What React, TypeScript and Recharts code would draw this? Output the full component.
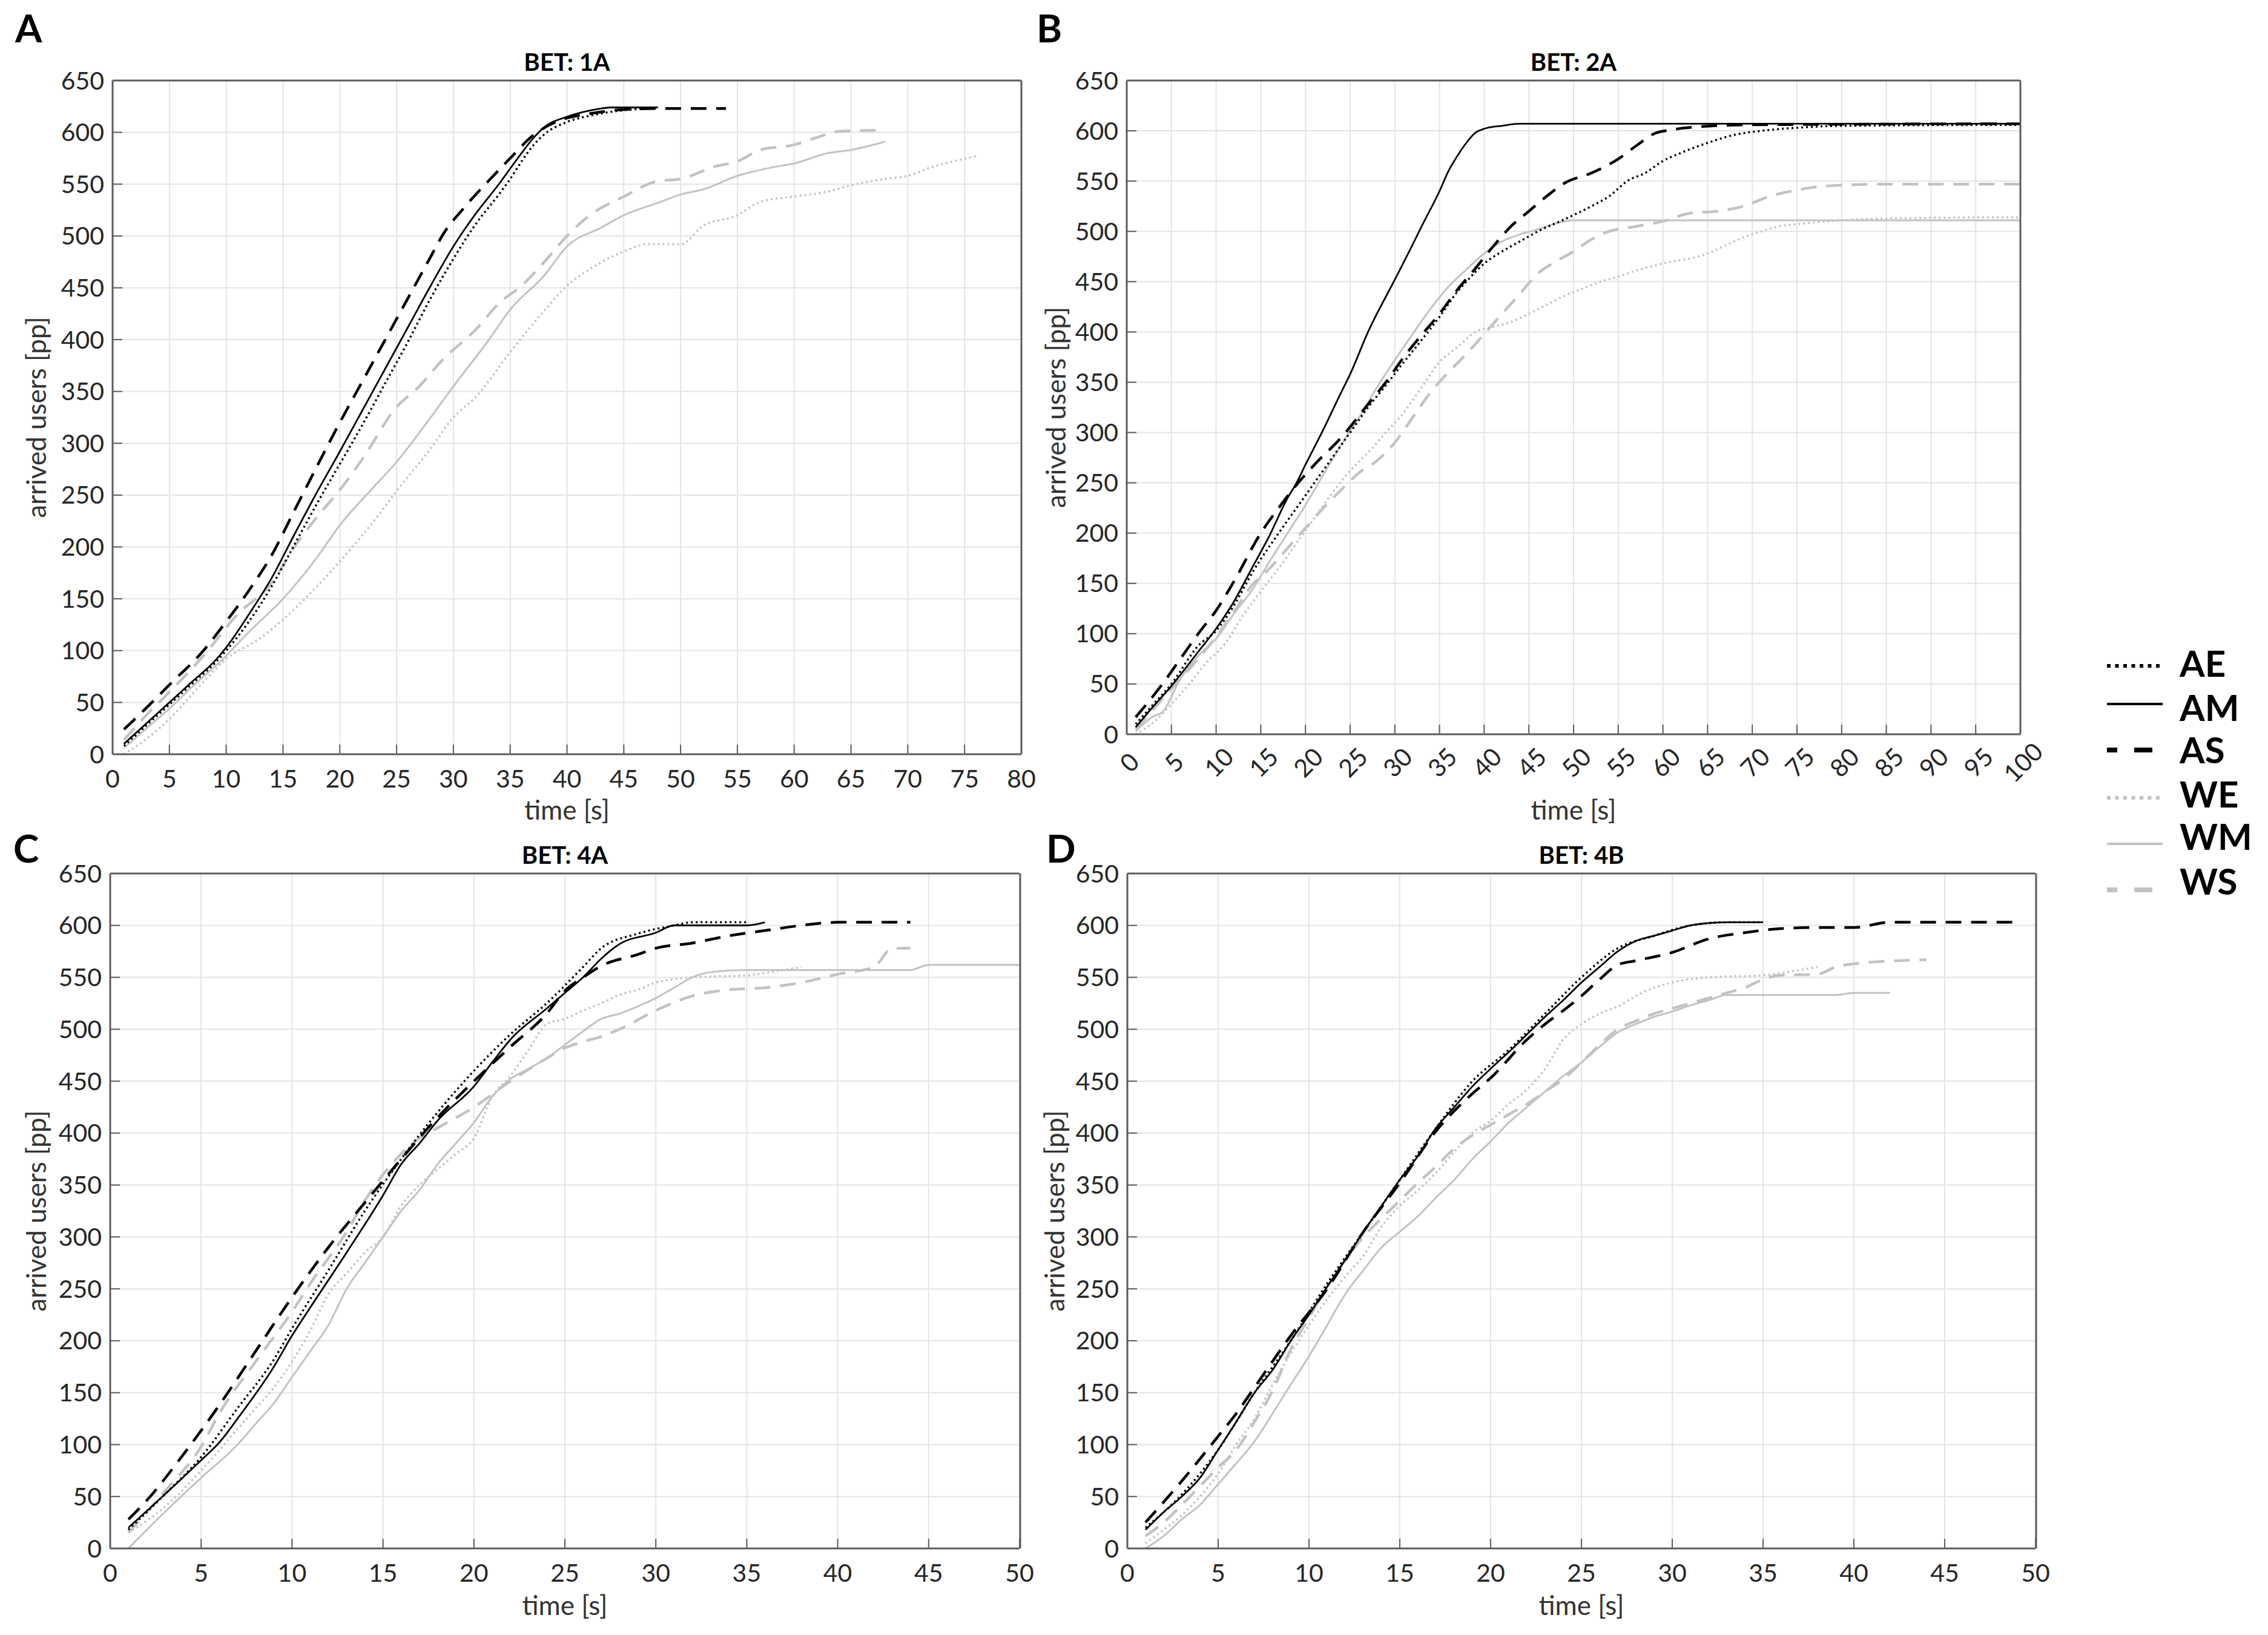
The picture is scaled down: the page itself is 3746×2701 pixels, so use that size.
import React from "react";
import { CartesianGrid, Line, LineChart, XAxis, YAxis } from "recharts";

type Pt = [number, number];

// ---- BET: 1A ----
const A_AE: Pt[] = [[1,8],[3,28],[5,48],[7,68],[9,88],[10,100],[12,128],[14,162],[16,202],[18,242],[20,280],[22,318],[24,358],[26,398],[28,440],[30,478],[32,512],[34,540],[35,555],[36,572],[37,587],[38,598],[40,610],[42,616],[44,620],[47,623]];
const A_AM: Pt[] = [[1,10],[3,30],[5,50],[7,70],[9,90],[10,103],[12,135],[14,170],[16,212],[18,253],[20,292],[22,332],[24,372],[26,412],[28,452],[30,490],[32,522],[34,550],[35,565],[36,580],[37,594],[38,605],[40,615],[42,621],[44,624],[48,624]];
const A_AS: Pt[] = [[1,24],[3,45],[5,67],[8,100],[10,128],[12,158],[14,192],[16,235],[18,278],[20,320],[22,360],[24,400],[26,440],[28,480],[29,500],[31,528],[33,552],[35,575],[37,597],[39,610],[42,618],[45,622],[48,623],[54,623]];
const A_WE: Pt[] = [[1,0],[3,15],[5,34],[8,70],[10,92],[13,112],[15,130],[18,162],[20,186],[23,225],[25,254],[28,295],[30,325],[32,345],[35,388],[38,428],[40,452],[42,468],[45,485],[47,492],[50,492],[52,510],[55,520],[57,533],[60,538],[63,543],[65,549],[68,555],[70,558],[72,566],[74,572],[76,577]];
const A_WM: Pt[] = [[1,6],[3,25],[5,44],[7,65],[10,95],[12,118],[15,150],[18,190],[20,221],[23,258],[25,282],[28,325],[30,355],[33,398],[35,429],[38,462],[40,490],[43,508],[45,520],[48,532],[50,540],[52,545],[55,558],[58,566],[60,570],[63,580],[65,583],[68,591]];
const A_WS: Pt[] = [[1,14],[3,38],[5,60],[8,95],[11,135],[14,165],[16,200],[18,229],[20,255],[22,285],[25,335],[27,355],[29,380],[32,410],[34,435],[36,452],[38,475],[40,500],[42,520],[45,538],[48,553],[50,555],[53,567],[55,572],[57,583],[60,588],[62,595],[64,601],[68,602]];

// ---- BET: 2A ----
const B_AE: Pt[] = [[1,10],[3,30],[5,50],[8,88],[10,103],[12,128],[14,160],[17,200],[19,225],[21,250],[23,275],[25,300],[27,325],[29,347],[31,370],[33,392],[35,415],[37,440],[38,450],[40,468],[42,480],[44,490],[46,500],[49,512],[52,525],[54,535],[56,550],[58,558],[60,570],[62,578],[65,588],[68,596],[71,600],[75,603],[80,605],[100,606]];
const B_AM: Pt[] = [[1,7],[3,28],[5,48],[8,82],[10,105],[12,132],[14,165],[16,198],[18,235],[19,250],[20,268],[22,303],[24,340],[25,358],[27,400],[30,452],[32,487],[33,505],[35,540],[36,560],[37,575],[38,588],[39,598],[40,602],[42,605],[44,607],[100,607]];
const B_AS: Pt[] = [[1,17],[4,50],[6,75],[8,100],[10,123],[12,152],[15,200],[17,225],[19,248],[21,268],[24,295],[27,328],[29,350],[31,375],[33,397],[35,418],[37,442],[39,463],[41,485],[43,505],[45,520],[47,535],[49,548],[52,558],[55,572],[57,585],[59,597],[61,601],[64,604],[70,606],[100,607]];
const B_WE: Pt[] = [[1,0],[3,12],[5,30],[7,50],[9,72],[11,90],[13,118],[15,142],[17,165],[19,190],[21,215],[23,240],[25,262],[27,280],[29,300],[31,320],[33,345],[35,370],[37,385],[39,400],[41,405],[43,410],[45,418],[47,427],[49,436],[51,443],[53,450],[55,455],[57,461],[59,466],[61,470],[63,473],[65,478],[67,486],[69,494],[71,500],[73,505],[76,508],[80,511],[86,513],[100,514]];
const B_WM: Pt[] = [[1,3],[3,18],[4,22],[6,55],[8,78],[10,95],[12,120],[14,143],[16,172],[18,200],[20,228],[22,258],[24,288],[26,315],[28,345],[30,372],[32,398],[34,423],[36,445],[38,462],[40,478],[42,490],[44,497],[46,502],[48,508],[50,511],[100,511]];
const B_WS: Pt[] = [[1,5],[3,25],[6,55],[8,75],[10,97],[12,122],[14,148],[16,165],[18,185],[20,205],[22,225],[24,243],[26,260],[28,272],[30,290],[32,315],[34,340],[36,360],[38,378],[40,398],[42,418],[44,438],[46,458],[48,470],[50,480],[52,492],[54,500],[57,505],[60,510],[63,518],[66,520],[69,525],[72,535],[75,541],[78,545],[85,547],[100,547]];

// ---- BET: 4A ----
const C_AE: Pt[] = [[1,18],[3,52],[5,88],[7,135],[9,182],[10,212],[12,268],[14,325],[16,375],[18,420],[20,460],[22,495],[24,525],[26,560],[27,578],[29,592],[31,600],[32,603],[35,603]];
const C_AM: Pt[] = [[1,20],[3,52],[5,85],[6,102],[7,125],[9,175],[10,205],[11,232],[13,285],[15,340],[16,370],[17,390],[18,412],[20,445],[21,468],[22,490],[24,520],[25,535],[26,550],[27,568],[28,582],[30,593],[31,600],[35,600],[36,603]];
const C_AS: Pt[] = [[1,28],[2,46],[4,90],[6,138],[8,190],[10,242],[12,290],[14,333],[16,375],[18,415],[20,450],[22,483],[24,515],[25,537],[26,550],[27,561],[29,572],[30,578],[32,583],[34,590],[36,595],[38,600],[40,603],[44,603]];
const C_WE: Pt[] = [[1,15],[3,40],[5,75],[7,115],[8,135],[9,155],[10,180],[11,210],[12,245],[13,265],[14,285],[15,300],[16,330],[17,350],[18,365],[19,380],[20,395],[21,435],[22,455],[23,480],[24,505],[25,510],[26,518],[27,525],[28,533],[29,538],[30,545],[32,550],[35,552],[37,557],[38,560]];
const C_WM: Pt[] = [[1,0],[3,35],[5,68],[7,100],[8,120],[9,140],[10,165],[11,190],[12,215],[13,250],[14,275],[15,300],[16,325],[17,345],[18,370],[19,390],[20,410],[21,435],[22,452],[23,462],[24,472],[25,485],[26,498],[27,510],[28,515],[29,522],[30,530],[31,540],[32,550],[33,555],[35,557],[44,557],[45,562],[50,562]];
const C_WS: Pt[] = [[1,15],[3,55],[5,98],[6,130],[8,180],[10,228],[11,255],[13,305],[14,335],[15,360],[16,380],[17,395],[18,405],[20,425],[22,450],[24,472],[25,482],[26,488],[27,493],[28,500],[30,518],[32,532],[34,538],[36,540],[38,545],[40,553],[42,560],[43,578],[44,578]];

// ---- BET: 4B ----
const D_AE: Pt[] = [[1,20],[3,52],[5,95],[7,150],[9,200],[11,255],[13,305],[15,355],[17,405],[19,450],[21,480],[23,515],[25,550],[27,578],[29,590],[31,600],[33,603],[35,603]];
const D_AM: Pt[] = [[1,18],[2,35],[3,50],[4,68],[5,95],[6,122],[7,150],[8,172],[9,200],[10,225],[11,252],[12,278],[13,305],[14,330],[15,355],[16,378],[17,405],[18,425],[19,445],[20,462],[21,478],[22,495],[23,512],[24,528],[25,545],[26,560],[27,575],[28,585],[29,590],[30,595],[31,600],[33,603],[35,603]];
const D_AS: Pt[] = [[1,25],[3,65],[5,108],[6,130],[7,155],[9,205],[11,250],[13,305],[15,352],[17,402],[19,438],[20,453],[22,490],[23,505],[24,518],[25,532],[26,548],[27,562],[28,566],[30,574],[32,587],[34,593],[36,597],[38,598],[40,598],[42,603],[49,603]];
const D_WE: Pt[] = [[1,5],[2,18],[3,32],[4,50],[5,72],[6,100],[7,125],[8,158],[9,188],[10,215],[11,240],[12,262],[13,282],[14,310],[15,330],[16,345],[17,362],[18,382],[19,400],[20,412],[21,428],[22,442],[23,462],[24,490],[25,505],[26,515],[27,522],[28,532],[29,540],[30,545],[32,550],[35,552],[37,557],[38,560]];
const D_WM: Pt[] = [[1,0],[2,12],[3,28],[4,42],[5,62],[6,82],[7,103],[8,130],[9,158],[10,185],[11,215],[12,245],[13,268],[14,290],[15,305],[16,320],[17,338],[18,355],[19,375],[20,392],[21,410],[22,425],[23,440],[24,455],[25,468],[26,483],[27,497],[28,505],[29,512],[30,517],[31,523],[32,528],[33,533],[39,533],[40,535],[42,535]];
const D_WS: Pt[] = [[1,12],[2,25],[3,42],[4,60],[5,78],[6,95],[7,122],[8,152],[9,192],[10,222],[11,252],[12,278],[13,300],[14,318],[15,335],[16,352],[17,368],[18,385],[19,398],[20,408],[21,418],[22,428],[23,440],[24,452],[25,468],[26,485],[27,500],[28,508],[29,515],[30,520],[31,525],[32,530],[33,535],[34,540],[35,548],[36,552],[38,553],[39,560],[40,563],[44,567]];

const Y_TICKS = [0, 50, 100, 150, 200, 250, 300, 350, 400, 450, 500, 550, 600, 650];
const Y_MINOR = Array.from({ length: 66 }, (_, i) => i * 10);
const X_TICKS_80 = [0, 5, 10, 15, 20, 25, 30, 35, 40, 45, 50, 55, 60, 65, 70, 75, 80];
const X_TICKS_100 = [0, 5, 10, 15, 20, 25, 30, 35, 40, 45, 50, 55, 60, 65, 70, 75, 80, 85, 90, 95, 100];
const X_TICKS_50 = [0, 5, 10, 15, 20, 25, 30, 35, 40, 45, 50];

const NAMES = ["AE", "AM", "AS", "WE", "WM", "WS"];
// gray first so the black curves sit on top
const DRAW_ORDER = ["WE", "WM", "WS", "AS", "AM", "AE"];

const FONT = "Lato, 'Open Sans', sans-serif";
const FRAME = "#5c5c5c";
const GRAY = "#c2c2c2";

const STYLE: Record<string, { stroke: string; width: number; dash?: string }> = {
  AE: { stroke: "#000", width: 3.5, dash: "3 5" },
  AM: { stroke: "#000", width: 2.8 },
  AS: { stroke: "#000", width: 4.5, dash: "26 16" },
  WE: { stroke: GRAY, width: 3.5, dash: "3 5" },
  WM: { stroke: GRAY, width: 3 },
  WS: { stroke: GRAY, width: 4.5, dash: "26 16" },
};

const LEGEND_STYLE: Record<string, { stroke: string; width: number; dash?: string; offset?: number }> = {
  AE: { stroke: "#000", width: 6, dash: "6 7.5" },
  AM: { stroke: "#000", width: 4 },
  AS: { stroke: "#000", width: 8, dash: "30 28", offset: 13 },
  WE: { stroke: GRAY, width: 6, dash: "6 7.5" },
  WM: { stroke: GRAY, width: 4 },
  WS: { stroke: GRAY, width: 8, dash: "30 28", offset: 13 },
};

interface PanelDef {
  letter: string;
  title: string;
  xMax: number;
  xTicks: number[];
  rotate: boolean;
  minor: boolean;
  box: { l: number; t: number; r: number; b: number };
  series: Record<string, Pt[]>;
  letterX: number;
  letterY: number;
  titleY: number;
  xLabelY: number;
  yLabelX: number;
}

const PANELS: PanelDef[] = [
  {
    letter: "A", title: "BET: 1A", xMax: 80, xTicks: X_TICKS_80, rotate: false, minor: false,
    box: { l: 186, t: 133, r: 1687, b: 1246 },
    series: { AE: A_AE, AM: A_AM, AS: A_AS, WE: A_WE, WM: A_WM, WS: A_WS },
    letterX: 25, letterY: 70, titleY: 117, xLabelY: 1354, yLabelX: 76,
  },
  {
    letter: "B", title: "BET: 2A", xMax: 100, xTicks: X_TICKS_100, rotate: true, minor: false,
    box: { l: 1861, t: 133, r: 3337, b: 1213 },
    series: { AE: B_AE, AM: B_AM, AS: B_AS, WE: B_WE, WM: B_WM, WS: B_WS },
    letterX: 1712, letterY: 70, titleY: 117, xLabelY: 1354, yLabelX: 1760,
  },
  {
    letter: "C", title: "BET: 4A", xMax: 50, xTicks: X_TICKS_50, rotate: false, minor: true,
    box: { l: 182, t: 1443, r: 1684, b: 2558 },
    series: { AE: C_AE, AM: C_AM, AS: C_AS, WE: C_WE, WM: C_WM, WS: C_WS },
    letterX: 22, letterY: 1425, titleY: 1427, xLabelY: 2668, yLabelX: 76,
  },
  {
    letter: "D", title: "BET: 4B", xMax: 50, xTicks: X_TICKS_50, rotate: false, minor: true,
    box: { l: 1862, t: 1443, r: 3362, b: 2558 },
    series: { AE: D_AE, AM: D_AM, AS: D_AS, WE: D_WE, WM: D_WM, WS: D_WS },
    letterX: 1728, letterY: 1425, titleY: 1427, xLabelY: 2668, yLabelX: 1758,
  },
];

const Y_W = 180;
const TOP_PAD = 60;
const X_H = 150;
const RIGHT_PAD = 70;

function RotTick({ x, y, payload }: any) {
  const cx = x + 4;
  const cy = y + 20;
  return (
    <text
      x={cx}
      y={cy}
      transform={`rotate(-45 ${cx} ${cy})`}
      textAnchor="middle"
      dominantBaseline="central"
      fontSize={41}
      fontFamily={FONT}
      fill="#262626"
    >
      {payload.value}
    </text>
  );
}

function Panel({ p }: { p: PanelDef }) {
  const leftW = Y_W + (p.minor ? 1 : 0);
  const rightW = 1 + (p.minor ? 1 : 0);
  const plotW = p.box.r - p.box.l;
  const plotH = p.box.b - p.box.t;
  const width = leftW + plotW + rightW + RIGHT_PAD;
  const height = TOP_PAD + 1 + plotH + X_H;
  const tickFont = { fontSize: 41, fill: "#262626", fontFamily: FONT };
  const axisLine = { stroke: FRAME, strokeWidth: 3 };
  const tickLine = { stroke: FRAME, strokeWidth: 2 };

  return (
    <div style={{ position: "absolute", left: p.box.l - leftW, top: p.box.t - TOP_PAD - 1 }}>
      <LineChart
        width={width}
        height={height}
        margin={{ top: TOP_PAD, right: RIGHT_PAD, bottom: 0, left: 0 }}
        style={{ overflow: "visible" }}
      >
        <CartesianGrid stroke="#e4e4e4" strokeWidth={2} />
        <XAxis
          xAxisId="top"
          orientation="top"
          type="number"
          domain={[0, p.xMax]}
          ticks={p.xTicks}
          interval={0}
          height={1}
          tick={false}
          tickSize={-16}
          axisLine={axisLine}
          tickLine={tickLine}
          allowDataOverflow
        />
        <XAxis
          dataKey="t"
          type="number"
          domain={[0, p.xMax]}
          ticks={p.xTicks}
          interval={0}
          height={X_H}
          tickSize={-16}
          tickMargin={42}
          tick={p.rotate ? <RotTick /> : tickFont}
          axisLine={axisLine}
          tickLine={tickLine}
          allowDataOverflow
        />
        {p.minor && (
          <YAxis
            yAxisId="minL"
            orientation="left"
            type="number"
            domain={[0, 650]}
            ticks={Y_MINOR}
            interval={0}
            width={1}
            tick={false}
            tickSize={-9}
            axisLine={false}
            tickLine={tickLine}
            allowDataOverflow
          />
        )}
        {p.minor && (
          <YAxis
            yAxisId="minR"
            orientation="right"
            type="number"
            domain={[0, 650]}
            ticks={Y_MINOR}
            interval={0}
            width={1}
            tick={false}
            tickSize={-9}
            axisLine={false}
            tickLine={tickLine}
            allowDataOverflow
          />
        )}
        <YAxis
          type="number"
          domain={[0, 650]}
          ticks={Y_TICKS}
          interval={0}
          width={Y_W}
          tickSize={-16}
          tickMargin={30}
          tick={tickFont}
          axisLine={axisLine}
          tickLine={tickLine}
          allowDataOverflow
        />
        <YAxis
          yAxisId="right"
          orientation="right"
          type="number"
          domain={[0, 650]}
          ticks={Y_TICKS}
          interval={0}
          width={1}
          tick={false}
          tickSize={-16}
          axisLine={axisLine}
          tickLine={tickLine}
          allowDataOverflow
        />
        {DRAW_ORDER.map((k) => (
          <Line
            key={k}
            name={k}
            data={p.series[k].map(([t, v]) => ({ t, v }))}
            dataKey="v"
            type="monotone"
            stroke={STYLE[k].stroke}
            strokeWidth={STYLE[k].width}
            strokeDasharray={STYLE[k].dash}
            strokeLinejoin="round"
            dot={false}
            activeDot={false}
            isAnimationActive={false}
          />
        ))}
      </LineChart>
    </div>
  );
}

const LEGEND_LINE_Y = [1100, 1163, 1239, 1318, 1394, 1470];
const LEGEND_TEXT_Y = [1118, 1191, 1261, 1334, 1404, 1478];

function Overlay() {
  return (
    <svg
      width={3746}
      height={2701}
      style={{ position: "absolute", left: 0, top: 0, pointerEvents: "none" }}
      fontFamily={FONT}
    >
      {PANELS.map((p) => {
        const cx = (p.box.l + p.box.r) / 2;
        const cy = (p.box.t + p.box.b) / 2;
        return (
          <g key={p.letter}>
            <text x={p.letterX} y={p.letterY} fontSize={64} fontWeight={700} fill="#000">
              {p.letter}
            </text>
            <text x={cx} y={p.titleY} fontSize={40} fontWeight={700} textAnchor="middle" fill="#000">
              {p.title}
            </text>
            <text x={cx} y={p.xLabelY} fontSize={44} textAnchor="middle" fill="#333">
              time [s]
            </text>
            <text
              x={p.yLabelX}
              y={cy}
              fontSize={44}
              textAnchor="middle"
              fill="#333"
              transform={`rotate(-90 ${p.yLabelX} ${cy})`}
            >
              arrived users [pp]
            </text>
          </g>
        );
      })}
      {NAMES.map((k, i) => {
        const s = LEGEND_STYLE[k];
        return (
          <g key={k}>
            <line
              x1={3480}
              x2={3572}
              y1={LEGEND_LINE_Y[i]}
              y2={LEGEND_LINE_Y[i]}
              stroke={s.stroke}
              strokeWidth={s.width}
              strokeDasharray={s.dash}
              strokeDashoffset={s.offset}
            />
            <text x={3600} y={LEGEND_TEXT_Y[i]} fontSize={60} fontWeight={700} fill="#000">
              {k}
            </text>
          </g>
        );
      })}
    </svg>
  );
}

export default function App() {
  return (
    <div
      style={{
        position: "absolute",
        left: 0,
        top: 0,
        width: 3746,
        height: 2701,
        background: "#fff",
        fontFamily: FONT,
        overflow: "hidden",
      }}
    >
      {PANELS.map((p) => (
        <Panel key={p.letter} p={p} />
      ))}
      <Overlay />
    </div>
  );
}
